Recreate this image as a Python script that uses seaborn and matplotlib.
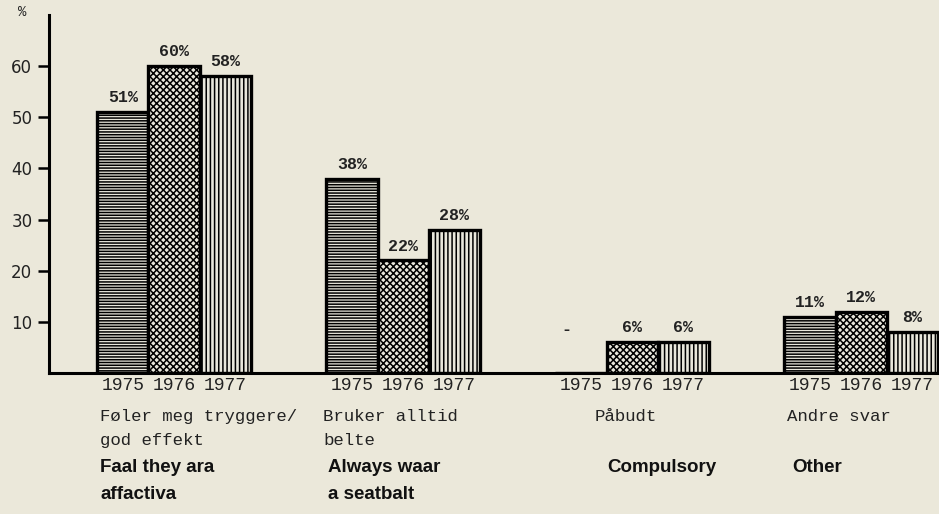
import matplotlib
matplotlib.use("Agg")
import matplotlib.pyplot as plt
import pandas as pd
import seaborn as sns

# data
categories = ["feel_safer", "always_belt", "compulsory", "other"]
years = ["1975", "1976", "1977"]
values_1975 = [51, 38, 0, 11]
values_1976 = [60, 22, 6, 12]
values_1977 = [58, 28, 6, 8]
labels_no = ["Føler meg tryggere/\ngod effekt", "Bruker alltid\nbelte", "Påbudt", "Andre svar"]
labels_en = ["Faal they ara\naffactiva", "Always waar\na seatbalt", "Compulsory", "Other"]
yticks = [10, 20, 30, 40, 50, 60]

bg = "#ebe8da"
mono = "Liberation Mono"

rows = []
for yr, vals in zip(years, [values_1975, values_1976, values_1977]):
    for cat, v in zip(categories, vals):
        rows.append({"category": cat, "year": yr, "value": v})
df = pd.DataFrame(rows)

sns.set_style("white")
plt.rcParams["hatch.linewidth"] = 1.1
plt.rcParams["font.family"] = ["DejaVu Sans"]

fig = plt.figure(figsize=(9.39, 5.14), dpi=100, facecolor=bg)
ax = fig.add_axes([49 / 939, (514 - 373) / 514, 1 - 49 / 939, (373 - 15) / 514])
ax.set_facecolor(bg)

sns.barplot(data=df, x="category", y="value", hue="year", order=categories,
            hue_order=years, palette=[bg] * 3, edgecolor="black", linewidth=2.4,
            width=0.67, gap=0, legend=False, ax=ax)

hatches = ["------", "xxxxx", "||||"]
for cont, h in zip(ax.containers, hatches):
    for p in cont:
        p.set_hatch(h)
        p.set_edgecolor("black")

# value labels on top of bars
for cont, vals in zip(ax.containers, [values_1975, values_1976, values_1977]):
    labs = [f"{v}%" if v > 0 else "" for v in vals]
    ax.bar_label(cont, labels=labs, padding=5, fontsize=12, family=mono,
                 fontweight="bold", color="#222222")

# missing 1975 value in "Påbudt"
miss = ax.containers[0][2]
ax.annotate("-", xy=(miss.get_x() + miss.get_width() / 2, values_1976[2]),
            xytext=(-15, 5), textcoords="offset pixels", ha="center", va="bottom",
            fontsize=12, family=mono, fontweight="bold")

# year labels under each bar
for cont, yr in zip(ax.containers, years):
    for p in cont:
        ax.annotate(yr, xy=(p.get_x() + p.get_width() / 2, 0), xytext=(0, -13),
                    textcoords="offset pixels", ha="center", va="center",
                    fontsize=13, family=mono, color="#222222", annotation_clip=False)

# category labels (Norwegian + English)
no_dx = [3, -3, 39, 3]
en_dx = [3, 2, 52, 8]
for i, (no, en) in enumerate(zip(labels_no, labels_en)):
    left = i - 0.335
    ax.annotate(no, xy=(left, 0), xytext=(no_dx[i], -36), textcoords="offset pixels",
                ha="left", va="top", fontsize=12.5, family=mono, linespacing=1.75,
                color="#222222", annotation_clip=False)
    ax.annotate(en, xy=(left, 0), xytext=(en_dx[i], -86), textcoords="offset pixels",
                ha="left", va="top", fontsize=13.5, family="Liberation Sans",
                fontweight="bold", linespacing=1.75, color="#111111",
                annotation_clip=False)

ax.set_xlim(-0.546, 3.34)
ax.set_ylim(0, 70)
ax.set_yticks(yticks)
ax.set_yticklabels([str(t) for t in yticks], fontsize=12, color="#222222")
ax.set_xticks([])
ax.set_xlabel("")
ax.set_ylabel("")
ax.tick_params(axis="y", direction="out", length=8, width=1.8, pad=4, left=True,
               color="black")
for s in ["top", "right"]:
    ax.spines[s].set_visible(False)
for s in ["left", "bottom"]:
    ax.spines[s].set_linewidth(2.2)
    ax.spines[s].set_color("black")

fig.text(22 / 939, 1 - 12 / 514, "%", fontsize=10, family=mono, ha="center", va="center")

plt.savefig("out.png", dpi=100, facecolor=bg)
